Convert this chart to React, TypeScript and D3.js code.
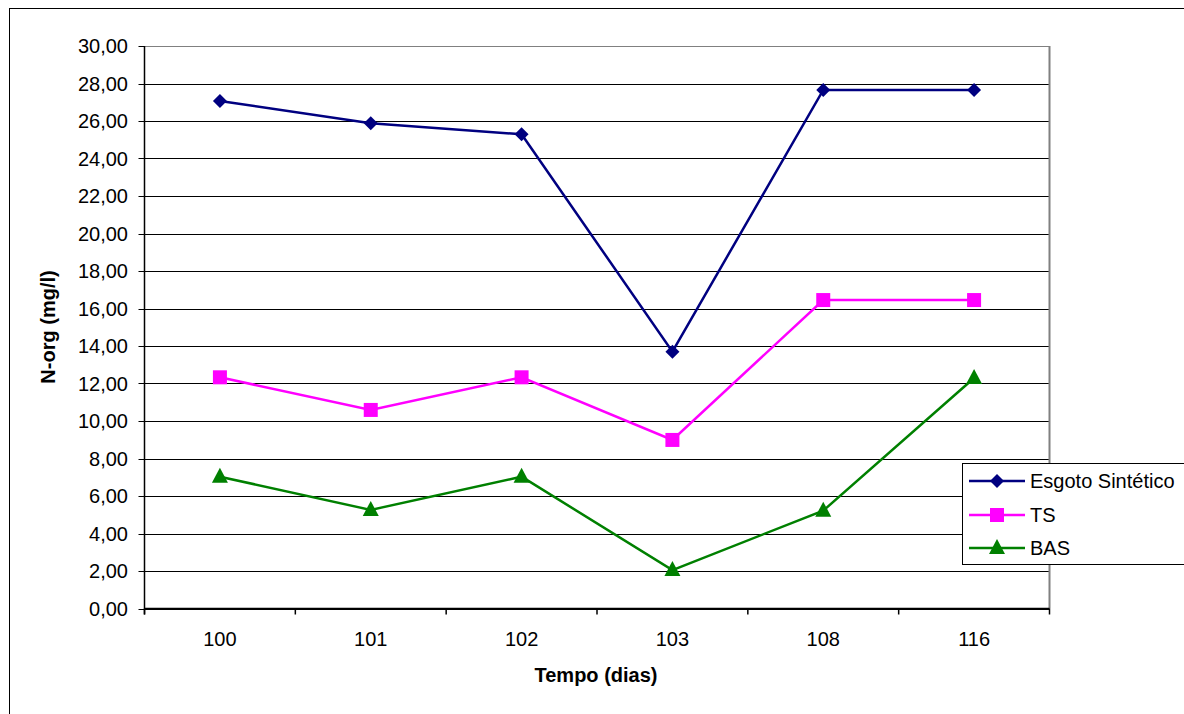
import React from "react";
import * as d3 from "d3";

const categories = ["100", "101", "102", "103", "108", "116"];
const esgoto = [27.07, 25.88, 25.29, 13.7, 27.66, 27.66];
const ts = [12.33, 10.59, 12.33, 8.99, 16.45, 16.45];
const bas = [7.03, 5.26, 7.03, 2.05, 5.22, 12.29];
const yTicks = d3.range(0, 30.001, 2);

const seriesList = [
  { name: "Esgoto Sintético", values: esgoto, color: "#000080", marker: "diamond" },
  { name: "TS", values: ts, color: "#FF00FF", marker: "square" },
  { name: "BAS", values: bas, color: "#008000", marker: "triangle" },
];

const W = 1184, H = 714;
const L = 144.5, R = 1049.5, T = 46, B = 608.5;
const font = "'Liberation Sans', Arial, sans-serif";
const FS = 20;

function Marker({ type, x, y, color }: { type: string; x: number; y: number; color: string }) {
  if (type === "diamond") {
    const s = 7;
    return <path d={`M${x},${y - s}L${x + s},${y}L${x},${y + s}L${x - s},${y}Z`} fill={color} />;
  }
  if (type === "square") {
    const s = 7;
    return <rect x={x - s} y={y - s} width={2 * s} height={2 * s} fill={color} />;
  }
  const s = 8;
  return <path d={`M${x},${y - s - 1}L${x + s},${y + s - 2}L${x - s},${y + s - 2}Z`} fill={color} />;
}

export default function App() {
  const x = d3.scaleBand().domain(categories).range([L, R]);
  const y = d3.scaleLinear().domain([0, 30]).range([B, T]);
  const line = d3
    .line<number>()
    .x((_, i) => (x(categories[i]) as number) + x.bandwidth() / 2)
    .y((d) => y(d));
  const boundaries = categories.map((c) => x(c) as number).concat([R]);
  const legendRows = [481, 515, 548];

  return (
    <svg width={W} height={H} style={{ position: "absolute", left: 0, top: 0, background: "#fff" }}>
      <rect x={9.5} y={8.5} width={1200} height={720} fill="#fff" stroke="#000" strokeWidth={1} />
      {yTicks.map((t) => (
        <line key={t} x1={L} x2={R} y1={Math.round(y(t)) + 0.5} y2={Math.round(y(t)) + 0.5} stroke={t === 30 ? "#808080" : "#000"} strokeWidth={1} />
      ))}
      <line x1={R} x2={R} y1={T} y2={B} stroke="#808080" strokeWidth={2} />
      <line x1={L} x2={L} y1={T} y2={B + 6} stroke="#000" strokeWidth={1.5} />
      <line x1={L} x2={R} y1={B} y2={B} stroke="#000" strokeWidth={1.5} />
      {yTicks.map((t) => (
        <g key={"yt" + t}>
          <line x1={L - 6} x2={L} y1={Math.round(y(t)) + 0.5} y2={Math.round(y(t)) + 0.5} stroke="#000" />
          <text x={128} y={y(t)} dy="0.36em" textAnchor="end" fontFamily={font} fontSize={FS} fill="#000">
            {t.toFixed(2).replace(".", ",")}
          </text>
        </g>
      ))}
      {boundaries.map((b, i) => (
        <line key={"xt" + i} x1={b} x2={b} y1={B} y2={B + 6} stroke="#000" strokeWidth={1.5} />
      ))}
      {categories.map((c) => (
        <text key={c} x={(x(c) as number) + x.bandwidth() / 2} y={646} textAnchor="middle" fontFamily={font} fontSize={FS} fill="#000">
          {c}
        </text>
      ))}
      <text x={596} y={682} textAnchor="middle" fontFamily={font} fontSize={FS} fontWeight="bold">
        Tempo (dias)
      </text>
      <text transform={`translate(55,327) rotate(-90)`} textAnchor="middle" fontFamily={font} fontSize={FS} fontWeight="bold">
        N-org (mg/l)
      </text>
      {seriesList.map((s) => (
        <g key={s.name}>
          <path d={line(s.values) || ""} fill="none" stroke={s.color} strokeWidth={2.5} />
          {s.values.map((v, i) => (
            <Marker key={i} type={s.marker} x={(x(categories[i]) as number) + x.bandwidth() / 2} y={y(v)} color={s.color} />
          ))}
        </g>
      ))}
      <rect x={962.5} y={463.5} width={240} height={101} fill="#fff" stroke="#000" strokeWidth={1} />
      {seriesList.map((s, i) => (
        <g key={"lg" + s.name}>
          <line x1={969} x2={1025} y1={legendRows[i]} y2={legendRows[i]} stroke={s.color} strokeWidth={2.5} />
          <Marker type={s.marker} x={997} y={legendRows[i]} color={s.color} />
          <text x={1030} y={legendRows[i]} dy="0.36em" fontFamily={font} fontSize={FS} fill="#000">
            {s.name}
          </text>
        </g>
      ))}
    </svg>
  );
}
